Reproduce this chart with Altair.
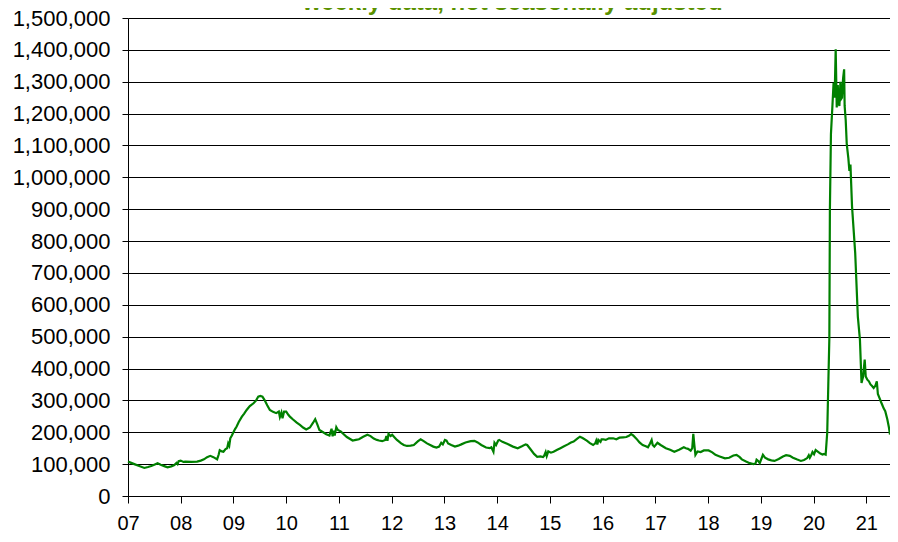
import altair as alt
import pandas as pd

title_text = "weekly data, not seasonally adjusted"
year_ticks = list(range(2007, 2022))
y_ticks = list(range(0, 1500001, 100000))

# fractional year of each reading
years = [
    2007.00, 2007.06, 2007.12, 2007.20, 2007.31, 2007.38, 2007.44, 2007.52, 2007.56, 2007.62,
    2007.70, 2007.75, 2007.82, 2007.88, 2007.92, 2007.94, 2007.96, 2008.00, 2008.05, 2008.09,
    2008.20, 2008.31, 2008.38, 2008.44, 2008.50, 2008.56, 2008.62, 2008.69, 2008.72, 2008.74,
    2008.78, 2008.81, 2008.85, 2008.88, 2008.90, 2008.92, 2008.94, 2008.97, 2008.99, 2009.03,
    2009.06, 2009.10, 2009.16, 2009.20, 2009.25, 2009.31, 2009.38, 2009.43, 2009.47, 2009.51,
    2009.55, 2009.59, 2009.64, 2009.69, 2009.75, 2009.81, 2009.86, 2009.88, 2009.91, 2009.93,
    2009.96, 2010.00, 2010.04, 2010.07, 2010.13, 2010.20, 2010.26, 2010.32, 2010.38, 2010.45,
    2010.51, 2010.55, 2010.59, 2010.63, 2010.70, 2010.76, 2010.82, 2010.86, 2010.88, 2010.90,
    2010.92, 2010.95, 2010.98, 2011.04, 2011.07, 2011.15, 2011.22, 2011.26, 2011.32, 2011.38,
    2011.46, 2011.54, 2011.60, 2011.66, 2011.72, 2011.76, 2011.82, 2011.88, 2011.90, 2011.92,
    2011.94, 2011.98, 2012.01, 2012.06, 2012.10, 2012.18, 2012.23, 2012.29, 2012.36, 2012.42,
    2012.50, 2012.55, 2012.60, 2012.67, 2012.73, 2012.79, 2012.85, 2012.90, 2012.94, 2012.97,
    2013.01, 2013.04, 2013.07, 2013.13, 2013.20, 2013.26, 2013.32, 2013.40, 2013.50, 2013.57,
    2013.63, 2013.70, 2013.79, 2013.86, 2013.89, 2013.93, 2013.95, 2013.98, 2014.02, 2014.04,
    2014.10, 2014.20, 2014.30, 2014.39, 2014.47, 2014.54, 2014.57, 2014.64, 2014.70, 2014.76,
    2014.82, 2014.87, 2014.89, 2014.92, 2014.94, 2014.97, 2015.02, 2015.07, 2015.14, 2015.20,
    2015.26, 2015.34, 2015.40, 2015.45, 2015.52, 2015.57, 2015.62, 2015.70, 2015.76, 2015.82,
    2015.86, 2015.88, 2015.90, 2015.92, 2015.96, 2015.98, 2016.01, 2016.06, 2016.12, 2016.20,
    2016.26, 2016.32, 2016.39, 2016.45, 2016.50, 2016.54, 2016.58, 2016.64, 2016.70, 2016.76,
    2016.82, 2016.86, 2016.90, 2016.93, 2016.95, 2016.98, 2017.04, 2017.10, 2017.20, 2017.28,
    2017.36, 2017.45, 2017.54, 2017.58, 2017.62, 2017.67, 2017.70, 2017.72, 2017.74, 2017.76,
    2017.80, 2017.86, 2017.92, 2018.01, 2018.08, 2018.14, 2018.22, 2018.32, 2018.40, 2018.48,
    2018.54, 2018.60, 2018.64, 2018.72, 2018.79, 2018.86, 2018.90, 2018.92, 2018.95, 2018.98,
    2019.04, 2019.08, 2019.14, 2019.20, 2019.26, 2019.34, 2019.42, 2019.48, 2019.55, 2019.61,
    2019.68, 2019.76, 2019.82, 2019.88, 2019.91, 2019.93, 2019.95, 2019.98, 2020.01, 2020.04,
    2020.08, 2020.13, 2020.17, 2020.20, 2020.23, 2020.26, 2020.28, 2020.30, 2020.31, 2020.33,
    2020.36, 2020.38, 2020.40, 2020.42, 2020.44, 2020.46, 2020.47, 2020.49, 2020.51, 2020.52,
    2020.54, 2020.56, 2020.58, 2020.59, 2020.61, 2020.63, 2020.66, 2020.68, 2020.70, 2020.73,
    2020.79, 2020.84, 2020.88, 2020.91, 2020.94, 2020.97, 2020.99, 2021.02, 2021.05, 2021.08,
    2021.11, 2021.14, 2021.17, 2021.20, 2021.22, 2021.25, 2021.28, 2021.30, 2021.33, 2021.36,
    2021.40, 2021.43, 2021.45,
]

# continuing claims, thousands
claims_k = [
    108, 104, 100, 95, 88, 91, 94, 100, 103, 98,
    93, 90, 93, 97, 104, 100, 109, 111, 107, 108,
    107, 108, 111, 115, 122, 126, 122, 115, 130, 144,
    140, 139, 147, 150, 165, 158, 181, 190, 197, 210,
    218, 232, 249, 258, 270, 282, 291, 300, 312, 314,
    312, 301, 285, 270, 264, 260, 265, 248, 262, 244,
    265, 265, 255, 249, 240, 230, 223, 215, 209, 215,
    230, 241, 225, 207, 200, 194, 190, 211, 187, 205,
    190, 216, 207, 202, 197, 185, 178, 174, 176, 178,
    186, 192, 188, 180, 176, 174, 172, 176, 188, 173,
    195, 188, 192, 183, 176, 165, 160, 157, 158, 160,
    172, 178, 173, 165, 160, 155, 152, 155, 167, 162,
    176, 174, 165, 160, 155, 158, 162, 168, 172, 173,
    168, 160, 152, 150, 153, 139, 167, 160, 174, 176,
    170, 163, 155, 150, 156, 162, 160, 145, 132, 123,
    124, 122, 126, 138, 125, 140, 136, 139, 145, 150,
    155, 162, 168, 171, 180, 186, 182, 174, 166, 160,
    165, 174, 162, 176, 170, 178, 178, 176, 181, 181,
    178, 183, 184, 185, 189, 194, 190, 180, 168, 160,
    156, 153, 165, 176, 160, 155, 167, 160, 150, 145,
    139, 145, 153, 150, 148, 142, 150, 195, 160, 129,
    140, 138, 143, 143, 137, 129, 124, 118, 120, 127,
    129, 122, 115, 108, 103, 100, 102, 114, 110, 103,
    129, 120, 115, 112, 110, 116, 124, 128, 126, 120,
    115, 110, 113, 119, 128, 120, 126, 138, 131, 144,
    139, 133, 130, 132, 130, 200, 350, 496, 894, 1135,
    1230, 1297, 1250, 1402, 1219, 1290, 1240, 1224, 1300, 1245,
    1250, 1310, 1339, 1224, 1180, 1104, 1060, 1020, 1040, 909,
    763, 563, 490, 355, 375, 428, 375, 365, 360, 350,
    345, 339, 345, 360, 320, 308, 295, 287, 275, 266,
    240, 215, 193,
]

df = pd.DataFrame({"t": years, "v": [k * 1000 for k in claims_k]})
df_title = pd.DataFrame({"txt": [title_text]})

FONT = "Liberation Sans"

line = alt.Chart(df).mark_line(color="#008000", strokeWidth=2.2).encode(
    x=alt.X(
        "t:Q",
        scale=alt.Scale(domain=[2007, 2021.45], nice=False, zero=False),
        axis=alt.Axis(
            values=year_ticks,
            labelExpr="substring(toString(datum.value), 2, 4)",
            title=None,
            grid=False,
            tickSize=7,
            labelPadding=10,
            labelFontSize=20,
            labelFont=FONT,
            labelColor="black",
            labelFlush=False,
            labelOverlap=False,
            domainColor="black",
            tickColor="black",
        ),
    ),
    y=alt.Y(
        "v:Q",
        scale=alt.Scale(domain=[0, 1500000], nice=False),
        axis=alt.Axis(
            values=y_ticks,
            format=",d",
            title=None,
            grid=True,
            gridColor="black",
            gridOpacity=1,
            tickSize=6,
            labelPadding=12,
            labelFontSize=22,
            labelFont=FONT,
            labelColor="black",
            labelOverlap=False,
            domainColor="black",
            tickColor="black",
        ),
    ),
)

title = alt.Chart(df_title).mark_text(
    font=FONT,
    fontWeight="bold",
    fontSize=24,
    color="#5a9100",
    align="center",
    baseline="alphabetic",
).encode(text="txt:N", x=alt.value(384.5), y=alt.value(-8))

chart = (
    alt.layer(line, title)
    .properties(
        width=762,
        height=478,
        autosize=alt.AutoSizeParams(type="none"),
        padding={"left": 120, "top": 10, "right": 0, "bottom": 38},
        background="white",
    )
    .configure_view(stroke=None)
)

chart.save("out.html", embed_options={"renderer": "svg", "actions": False})
